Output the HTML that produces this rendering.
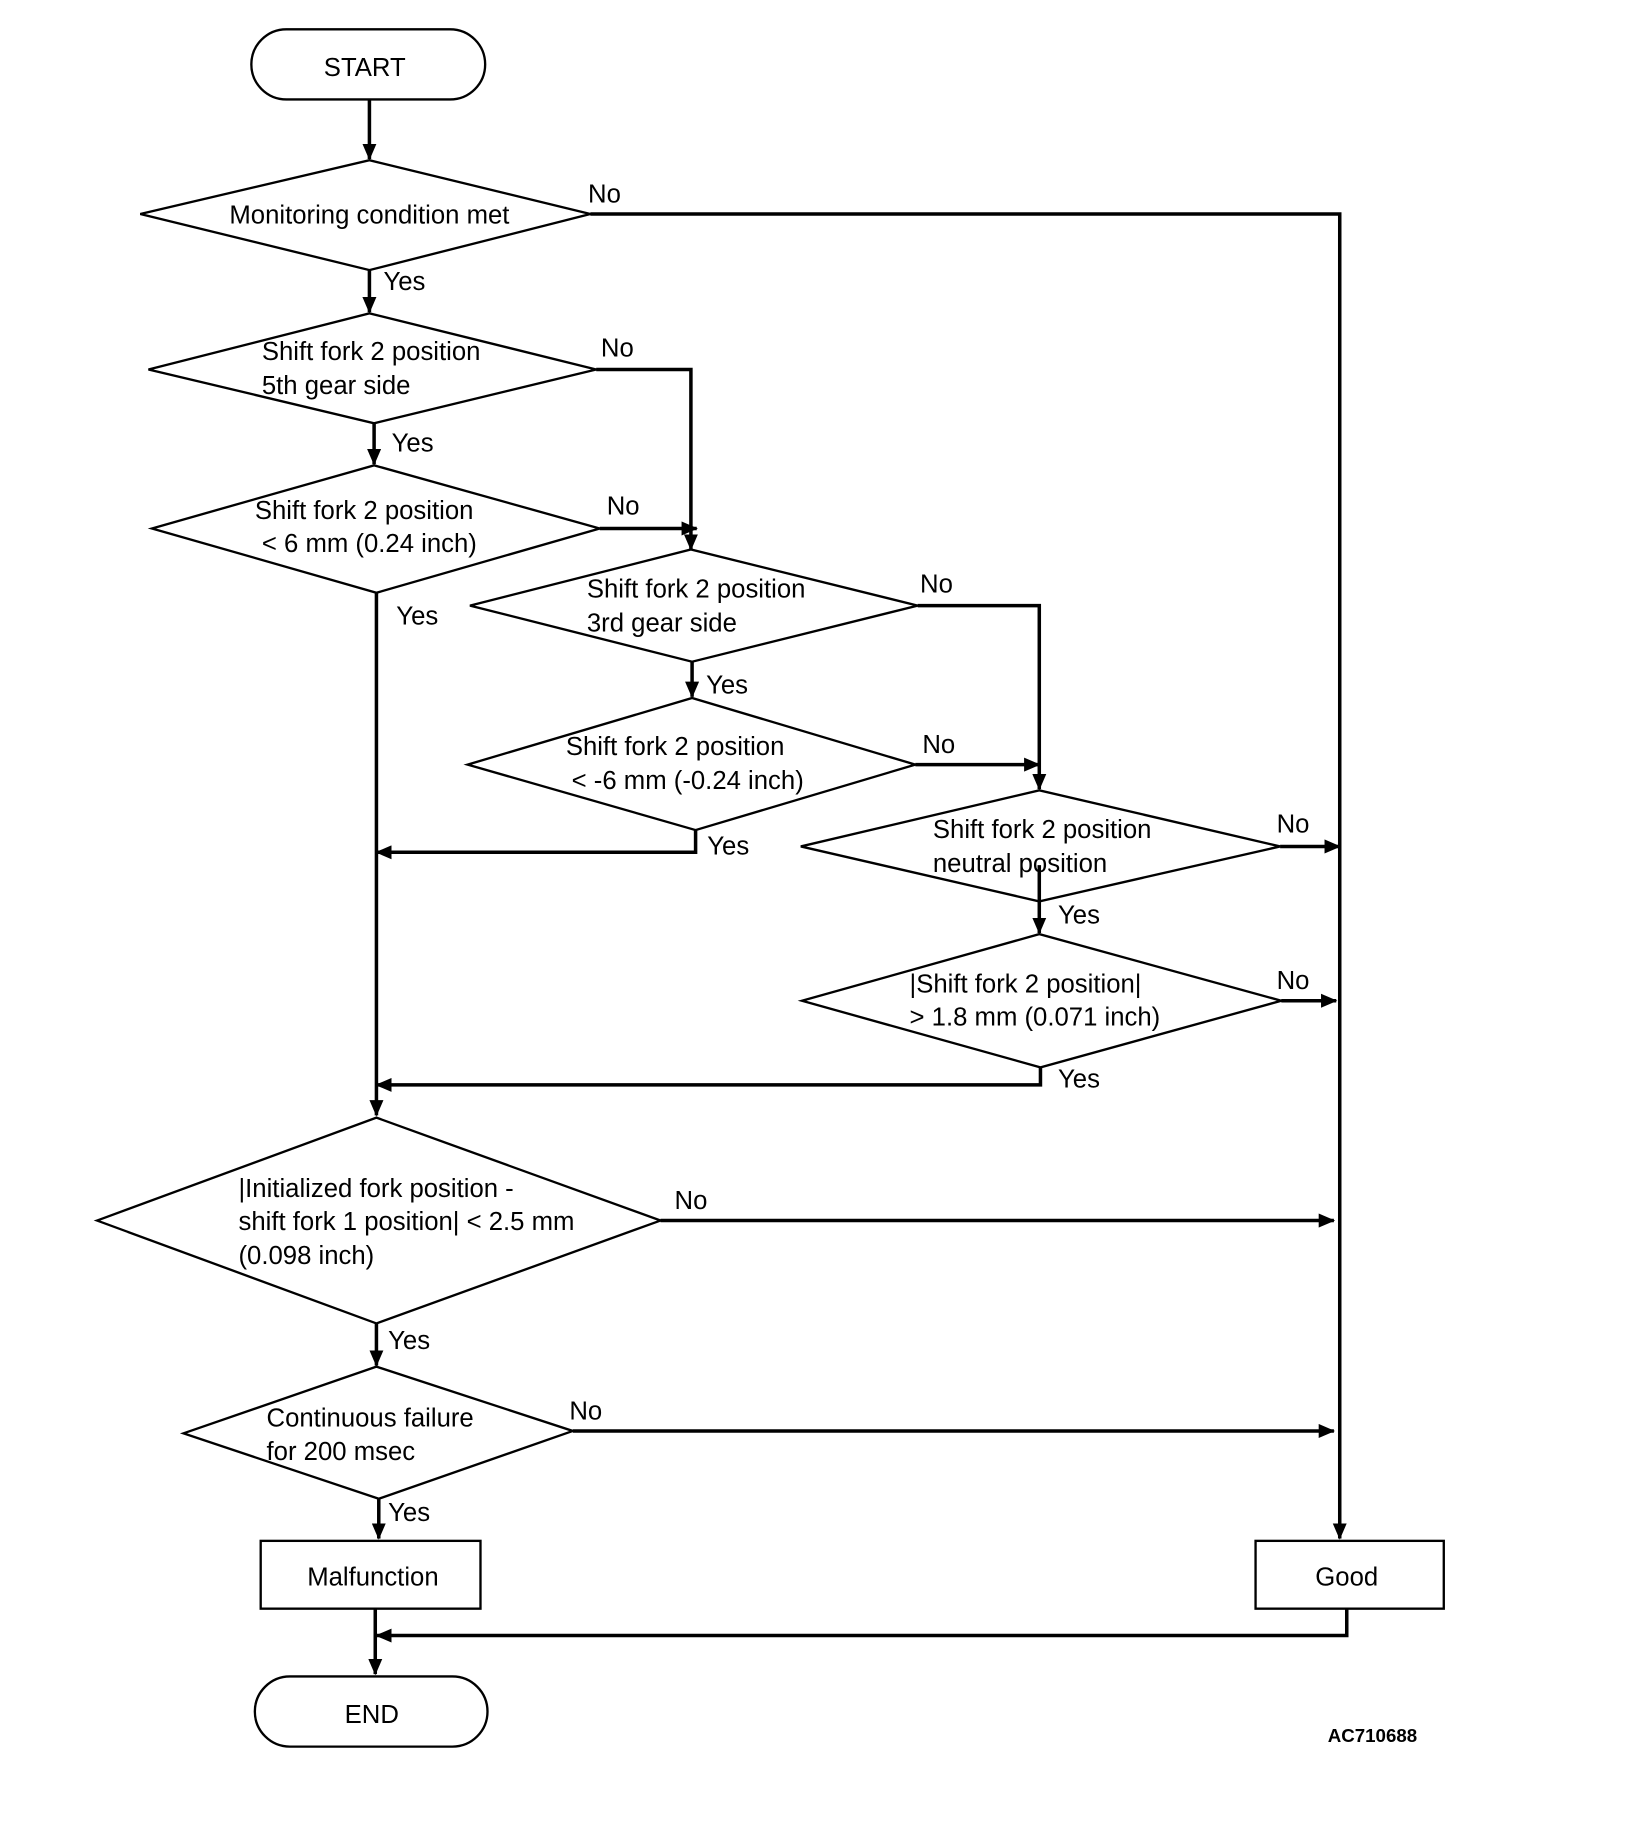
<!DOCTYPE html>
<html><head><meta charset="utf-8"><style>
html,body{margin:0;padding:0;background:#fff}
svg{display:block}
text{font-family:"Liberation Sans",Arial,sans-serif;font-size:22px;fill:#000}
</style></head><body>
<svg width="1632" height="1832" viewBox="0 0 1396 1567" xmlns="http://www.w3.org/2000/svg">
<defs>
<marker id="b" markerWidth="14" markerHeight="12" refX="13" refY="6" orient="auto" markerUnits="userSpaceOnUse"><path d="M0,0 L14,6 L0,12 z" fill="#000"/></marker></defs>
<g fill="none" stroke="#000" stroke-width="2">
<rect x="215" y="25" width="200" height="60" rx="30"/>
<rect x="218" y="1434" width="199" height="60" rx="30"/>
<rect x="223" y="1318" width="188" height="58"/>
<rect x="1074" y="1318" width="161" height="58"/>
<polygon points="120,183 316,137 505,183 316,231"/>
<polygon points="127,316 316,268 510,316 320,362"/>
<polygon points="130,452 320,398 513,452 322,507"/>
<polygon points="402,518 591,470 785,518 592,566"/>
<polygon points="400,654 592,597 783,654 595,710"/>
<polygon points="685,724 889,676 1095,724 889,771"/>
<polygon points="686,856 889,799 1096,856 890,913"/>
<polygon points="83,1044 322,956 565,1044 322,1132"/>
<polygon points="157,1226 322,1169 490,1224 324,1282"/>
</g>
<g fill="none" stroke="#000" stroke-width="3" marker-end="url(#b)">
<path d="M316,85 V136"/>
<path d="M505,183 H1146 V1316"/>
<path d="M316,231 V267"/>
<path d="M510,316 H591 V470"/>
<path d="M320,362 V397"/>
<path d="M513,452 H596"/>
<path d="M322,507 V954"/>
<path d="M785,518 H889 V675"/>
<path d="M592,566 V596"/>
<path d="M783,654 H889"/>
<path d="M595,710 V729 H322"/>
<path d="M1095,724 H1146"/>
<path d="M889,740 V798"/>
<path d="M1096,856 H1143"/>
<path d="M890,913 V928 H322"/>
<path d="M565,1044 H1141"/>
<path d="M322,1132 V1168"/>
<path d="M490,1224 H1141"/>
<path d="M324,1282 V1316"/>
<path d="M1152,1376 V1399 H322"/>
<path d="M321,1376 V1432"/>
</g>
<g>
<text x="312" y="65" text-anchor="middle">START</text>
<text x="318" y="1474" text-anchor="middle">END</text>
<text x="319" y="1356" text-anchor="middle">Malfunction</text>
<text x="1152" y="1356" text-anchor="middle">Good</text>
<text x="316" y="191" text-anchor="middle">Monitoring condition met</text>
<text x="224" y="308">Shift fork 2 position</text>
<text x="224" y="337">5th gear side</text>
<text x="218" y="444">Shift fork 2 position</text>
<text x="224" y="472">&lt; 6 mm (0.24 inch)</text>
<text x="502" y="511">Shift fork 2 position</text>
<text x="502" y="540">3rd gear side</text>
<text x="484" y="646">Shift fork 2 position</text>
<text x="489" y="675">&lt; -6 mm (-0.24 inch)</text>
<text x="798" y="717">Shift fork 2 position</text>
<text x="798" y="746">neutral position</text>
<text x="778" y="849">|Shift fork 2 position|</text>
<text x="778" y="877">&gt; 1.8 mm (0.071 inch)</text>
<text x="204" y="1024">|Initialized fork position -</text>
<text x="204" y="1052">shift fork 1 position| &lt; 2.5 mm</text>
<text x="204" y="1081">(0.098 inch)</text>
<text x="228" y="1220">Continuous failure</text>
<text x="228" y="1249">for 200 msec</text>
<text x="503" y="173">No</text><text x="328" y="248">Yes</text>
<text x="514" y="305">No</text><text x="335" y="386">Yes</text>
<text x="519" y="440">No</text><text x="339" y="534">Yes</text>
<text x="787" y="507">No</text><text x="604" y="593">Yes</text>
<text x="789" y="644">No</text><text x="605" y="731">Yes</text>
<text x="1092" y="712">No</text><text x="905" y="790">Yes</text>
<text x="1092" y="846">No</text><text x="905" y="930">Yes</text>
<text x="577" y="1034">No</text><text x="332" y="1154">Yes</text>
<text x="487" y="1214">No</text><text x="332" y="1301">Yes</text>
<text x="1174" y="1490" text-anchor="middle" style="font-size:16px;font-weight:bold">AC710688</text>
</g>
</svg>
</body></html>
